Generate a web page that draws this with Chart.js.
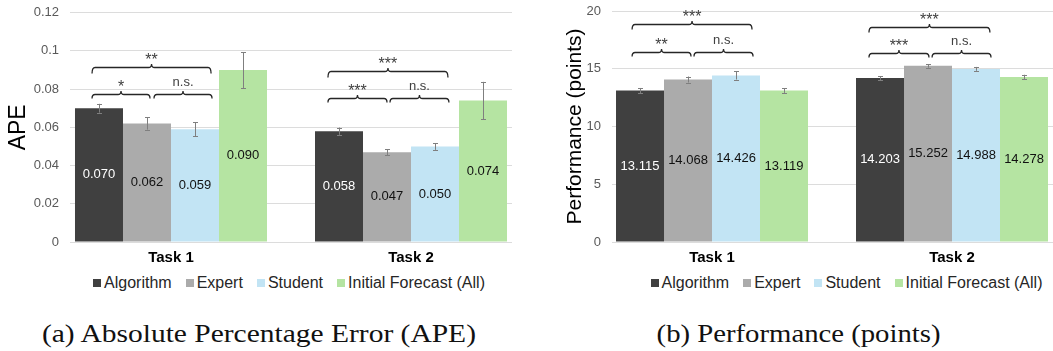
<!DOCTYPE html>
<html>
<head>
<meta charset="utf-8">
<script src="https://cdn.jsdelivr.net/npm/chart.js@4.4.0/dist/chart.umd.min.js"></script>
<style>
  html, body { margin:0; padding:0; background:#fff; }
  body { width:1053px; height:351px; overflow:hidden; position:relative; font-family:"Liberation Sans", Arial, sans-serif; }
  #wa { position:absolute; left:0; top:0; width:530px; height:268px; }
  #wb { position:absolute; left:530px; top:0; width:523px; height:268px; }
  .legend { position:absolute; top:273px; height:20px; display:flex; align-items:center; justify-content:center;
            font-size:16px; color:#262626; white-space:nowrap; }
  .legend .it { display:flex; align-items:center; margin-right:14px; }
  .legend .it:last-child { margin-right:0; }
  .legend .sw { width:8px; height:8px; margin-right:3px; }
  .capbox { position:absolute; top:320px; height:28px; text-align:center; white-space:nowrap; }
  .cap { display:inline-block; font-family:"Liberation Serif", "Times New Roman", serif; font-size:25px; line-height:28px;
         color:#111; transform-origin:50% 50%; }
</style>
</head>
<body>
<div id="wa"><canvas id="ca" width="530" height="268"></canvas></div>
<div id="wb"><canvas id="cb" width="523" height="268"></canvas></div>
<div class="legend" id="la" style="left:0;width:578px;"></div>
<div class="legend" id="lb" style="left:640px;width:413px;"></div>
<div class="capbox" style="left:0;width:518px;"><span class="cap" id="capa">(a) Absolute Percentage Error (APE)</span></div>
<div class="capbox" style="left:560px;width:478px;"><span class="cap" id="capb">(b) Performance (points)</span></div>
<script>
// ---------------- data ----------------
const categories = ['Task 1', 'Task 2'];
const seriesNames = ['Algorithm', 'Expert', 'Student', 'Initial Forecast (All)'];

const apeAlgorithm = [0.070, 0.058];
const apeExpert    = [0.062, 0.047];
const apeStudent   = [0.059, 0.050];
const apeInitial   = [0.090, 0.074];
const apeErrAlgorithm = [0.0023, 0.0019];
const apeErrExpert    = [0.0032, 0.0016];
const apeErrStudent   = [0.0037, 0.0018];
const apeErrInitial   = [0.0094, 0.0098];

const perfAlgorithm = [13.115, 14.203];
const perfExpert    = [14.068, 15.252];
const perfStudent   = [14.426, 14.988];
const perfInitial   = [13.119, 14.278];
const perfErrAlgorithm = [0.22, 0.17];
const perfErrExpert    = [0.26, 0.16];
const perfErrStudent   = [0.36, 0.17];
const perfErrInitial   = [0.21, 0.20];

const apeTickValues = [0, 0.02, 0.04, 0.06, 0.08, 0.1, 0.12];
const apeTickLabels = ['0', '0.02', '0.04', '0.06', '0.08', '0.1', '0.12'];
const perfTickValues = [0, 5, 10, 15, 20];
const perfTickLabels = ['0', '5', '10', '15', '20'];

const apeSignificance  = ['**', '*', 'n.s.', '***', '***', 'n.s.'];
const perfSignificance = ['***', '**', 'n.s.', '***', '***', 'n.s.'];

// ---------------- styling / layout ----------------
const seriesColors = ['#404040', '#ABABAB', '#C2E4F4', '#B5E4A2'];
const FONT = '"Liberation Sans", Arial, sans-serif';

// bracket geometry in axis units (x: category index units, y: value units)
const apeBracketGeom = [
  {x1:-0.329, x2:0.167,  y:0.0917, hook:6},
  {x1:-0.329, x2:-0.0875, y:0.0774, hook:4},
  {x1:-0.0708, x2:0.171, y:0.0774, hook:4},
  {x1:0.654, x2:1.154,   y:0.0896, hook:6},
  {x1:0.654, x2:0.9,     y:0.0755, hook:4},
  {x1:0.9125, x2:1.158,  y:0.0755, hook:4}
];
const perfBracketGeom = [
  {x1:-0.333, x2:0.1667, y:18.87, hook:5},
  {x1:-0.333, x2:-0.0875, y:16.48, hook:4},
  {x1:-0.075, x2:0.171,  y:16.48, hook:4},
  {x1:0.654, x2:1.158,   y:18.64, hook:5},
  {x1:0.654, x2:0.904,   y:16.34, hook:4},
  {x1:0.917, x2:1.1625,  y:16.34, hook:4}
];

const annotPlugin = {
  id: 'annot',
  afterDatasetsDraw(chart, args, opts) {
    const ctx = chart.ctx;
    const xs = chart.scales.x, ys = chart.scales.y;
    ctx.save();
    // error bars and value labels
    chart.data.datasets.forEach((ds, di) => {
      const meta = chart.getDatasetMeta(di);
      meta.data.forEach((bar, i) => {
        const v = ds.data[i].y;
        const e = opts.errors[di][i];
        const xc = Math.round(bar.x) + 0.5;
        const yTop = ys.getPixelForValue(v + e);
        const yBot = ys.getPixelForValue(v - e);
        ctx.strokeStyle = '#7f7f7f';
        ctx.lineWidth = 1;
        ctx.beginPath();
        ctx.moveTo(xc, yTop); ctx.lineTo(xc, yBot);
        ctx.moveTo(xc - 2.5, Math.round(yTop) + 0.5); ctx.lineTo(xc + 2.5, Math.round(yTop) + 0.5);
        ctx.moveTo(xc - 2.5, Math.round(yBot) + 0.5); ctx.lineTo(xc + 2.5, Math.round(yBot) + 0.5);
        ctx.stroke();
        // value label at bar centre
        ctx.font = '13px ' + FONT;
        ctx.fillStyle = di === 0 ? '#ffffff' : '#111111';
        ctx.textAlign = 'center';
        ctx.textBaseline = 'middle';
        ctx.fillText(v.toFixed(3), bar.x, (bar.y + bar.base) / 2);
      });
    });
    // significance brackets
    opts.brackets.forEach((b, k) => {
      const x1 = xs.getPixelForValue(b.x1);
      const x2 = xs.getPixelForValue(b.x2);
      const xm = (x1 + x2) / 2;
      const yl = Math.round(ys.getPixelForValue(b.y)) + 0.5;
      const h = b.hook, t = 3.5, r = 3;
      ctx.strokeStyle = '#262626';
      ctx.lineWidth = 1.3;
      ctx.beginPath();
      ctx.moveTo(x1, yl + h);
      ctx.quadraticCurveTo(x1, yl, x1 + r, yl);
      ctx.lineTo(xm - r, yl);
      ctx.quadraticCurveTo(xm, yl, xm, yl - t);
      ctx.quadraticCurveTo(xm, yl, xm + r, yl);
      ctx.lineTo(x2 - r, yl);
      ctx.quadraticCurveTo(x2, yl, x2, yl + h);
      ctx.stroke();
      const lab = opts.labels[k];
      ctx.font = (lab.indexOf('*') >= 0 ? '16px ' : '13px ') + FONT;
      ctx.fillStyle = '#404040';
      ctx.textAlign = 'center';
      ctx.textBaseline = 'alphabetic';
      const m = ctx.measureText(lab);
      const cy = yl - 11.7;
      const base = cy + (m.actualBoundingBoxAscent - m.actualBoundingBoxDescent) / 2;
      ctx.fillText(lab, xm, base);
    });
    ctx.restore();
  }
};

function makeChart(canvasId, cfg) {
  const datasets = cfg.series.map((vals, di) => ({
    label: seriesNames[di],
    data: vals.map((v, i) => ({x: i, y: v})),
    backgroundColor: seriesColors[di],
    borderWidth: 0,
    categoryPercentage: 0.8,
    barPercentage: 1.0
  }));
  return new Chart(document.getElementById(canvasId), {
    type: 'bar',
    data: { datasets },
    options: {
      responsive: false,
      animation: false,
      devicePixelRatio: 1,
      layout: { padding: cfg.padding },
      plugins: {
        legend: { display: false },
        tooltip: { enabled: false },
        annot: { errors: cfg.errors, brackets: cfg.brackets, labels: cfg.sigLabels }
      },
      scales: {
        x: {
          type: 'linear',
          offset: false,
          min: cfg.xMin, max: cfg.xMax,
          afterBuildTicks: s => { s.ticks = categories.map((c, i) => ({value: i})); },
          ticks: {
            callback: v => categories[v] !== undefined ? categories[v] : '',
            font: { family: FONT, size: 15, weight: 'bold' },
            color: '#000000',
            padding: 7,
            maxRotation: 0,
            autoSkip: false
          },
          grid: { display: false, drawTicks: false, offset: false },
          border: { display: false },
          afterFit: s => { s.height = 26; s.paddingLeft = 0; s.paddingRight = 0; }
        },
        y: {
          min: cfg.yMin, max: cfg.yMax,
          afterBuildTicks: s => { s.ticks = cfg.tickValues.map(v => ({value: v})); },
          ticks: {
            callback: (v, i) => cfg.tickLabels[i],
            font: { family: FONT, size: 13 },
            color: '#595959',
            padding: 11
          },
          grid: { color: '#dcdcdc', lineWidth: 1, drawTicks: false },
          border: { display: false },
          title: {
            display: true,
            text: cfg.title,
            font: { family: FONT, size: cfg.titleSize },
            color: '#000000',
            padding: { top: cfg.titlePad, bottom: 0 }
          },
          afterFit: s => { s.width = cfg.yWidth; s.paddingTop = 0; s.paddingBottom = 0; }
        }
      }
    },
    plugins: [annotPlugin]
  });
}

makeChart('ca', {
  series: [apeAlgorithm, apeExpert, apeStudent, apeInitial],
  errors: [apeErrAlgorithm, apeErrExpert, apeErrStudent, apeErrInitial],
  brackets: apeBracketGeom, sigLabels: apeSignificance,
  tickValues: apeTickValues, tickLabels: apeTickLabels,
  yMin: 0, yMax: 0.12, xMin: -0.4208, xMax: 1.4208,
  padding: { top: 12.7, right: 18, bottom: 0, left: 0 },
  yWidth: 70, title: 'APE', titleSize: 23, titlePad: 4.7
});

makeChart('cb', {
  series: [perfAlgorithm, perfExpert, perfStudent, perfInitial],
  errors: [perfErrAlgorithm, perfErrExpert, perfErrStudent, perfErrInitial],
  brackets: perfBracketGeom, sigLabels: perfSignificance,
  tickValues: perfTickValues, tickLabels: perfTickLabels,
  yMin: 0, yMax: 20, xMin: -0.4167, xMax: 1.4208,
  padding: { top: 11, right: 0, bottom: 0, left: 0 },
  yWidth: 82, title: 'Performance (points)', titleSize: 21, titlePad: 32.4
});

// HTML legends built from the series
function buildLegend(id) {
  const el = document.getElementById(id);
  seriesNames.forEach((n, i) => {
    const it = document.createElement('div'); it.className = 'it';
    const sw = document.createElement('div'); sw.className = 'sw'; sw.style.background = seriesColors[i];
    const tx = document.createElement('span'); tx.textContent = n;
    it.appendChild(sw); it.appendChild(tx); el.appendChild(it);
  });
}
buildLegend('la');
buildLegend('lb');

// stretch serif captions to the reference widths
function fitCaption(id, target) {
  const el = document.getElementById(id);
  const w = el.getBoundingClientRect().width;
  el.style.transform = 'scaleX(' + (target / w).toFixed(4) + ')';
}
fitCaption('capa', 434);
fitCaption('capb', 284);
</script>
</body>
</html>
